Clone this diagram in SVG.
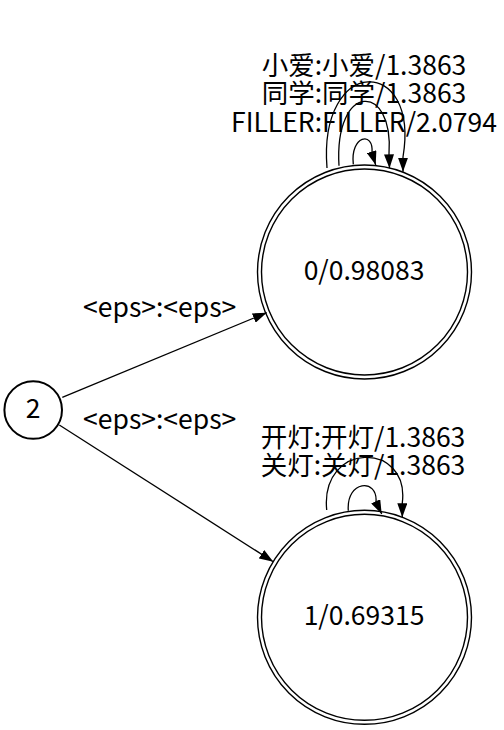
<svg xmlns="http://www.w3.org/2000/svg" width="504" height="730" viewBox="0 0 504 730">
<style>
text{font-family:"Noto Sans CJK SC","Noto Sans",sans-serif;font-size:26.5px;fill:#000;text-anchor:middle}
.n{fill:none;stroke:#000;stroke-width:1.4}
.s{fill:none;stroke:#000;stroke-width:2}
.e{fill:none;stroke:#000;stroke-width:1.3;marker-end:url(#ah)}
</style>
<defs>
<marker id="ah" markerUnits="userSpaceOnUse" viewBox="0 0 14 10" refX="14" refY="5" markerWidth="14" markerHeight="10" orient="auto">
<path d="M0,0 L14,5 L0,10 z" fill="#000"/>
</marker>
</defs>
<rect width="504" height="730" fill="#fff"/>
<g id="connectors">
<path class="e" d="M62.3,397.3 L266.7,312.7"/>
<path class="e" d="M59.3,425 L273.3,561.7"/>
<path class="e" d="M327,168 C318,55 420,55 403,157 L403,171.7"/>
<path class="e" d="M339,165.7 C334,82 394,82 389,154 L389.5,168.3"/>
<path class="e" d="M353.3,164.3 C350,136 374,130 372,153 L375.7,165"/>
<path class="e" d="M326.7,510 C320,441 410,441 402.3,503 L402.3,517.3"/>
<path class="e" d="M348.3,510.7 C346,480 378,478 376,502 L381.7,514"/>
<text x="159.7" y="316.7">&lt;eps&gt;:&lt;eps&gt;</text>
<text x="159.7" y="429.3">&lt;eps&gt;:&lt;eps&gt;</text>
<text x="364" y="75">小爱:小爱/1.3863</text>
<text x="364" y="103.3">同学:同学/1.3863</text>
<text x="364" y="131.7">FILLER:FILLER/2.0794</text>
<text x="363" y="446.7">开灯:开灯/1.3863</text>
<text x="363" y="475">关灯:关灯/1.3863</text>
</g>
<g id="node2">
<circle class="s" cx="33.2" cy="410" r="28.8"/>
<text x="33.2" y="417.5">2</text>
</g>
<g id="node0">
<circle class="n" cx="364.5" cy="272" r="107"/>
<circle class="n" cx="364.5" cy="272" r="103"/>
<text x="364" y="280">0/0.98083</text>
</g>
<g id="node1">
<circle class="n" cx="364.5" cy="617.3" r="107"/>
<circle class="n" cx="364.5" cy="617.3" r="103"/>
<text x="364" y="625">1/0.69315</text>
</g>
</svg>
